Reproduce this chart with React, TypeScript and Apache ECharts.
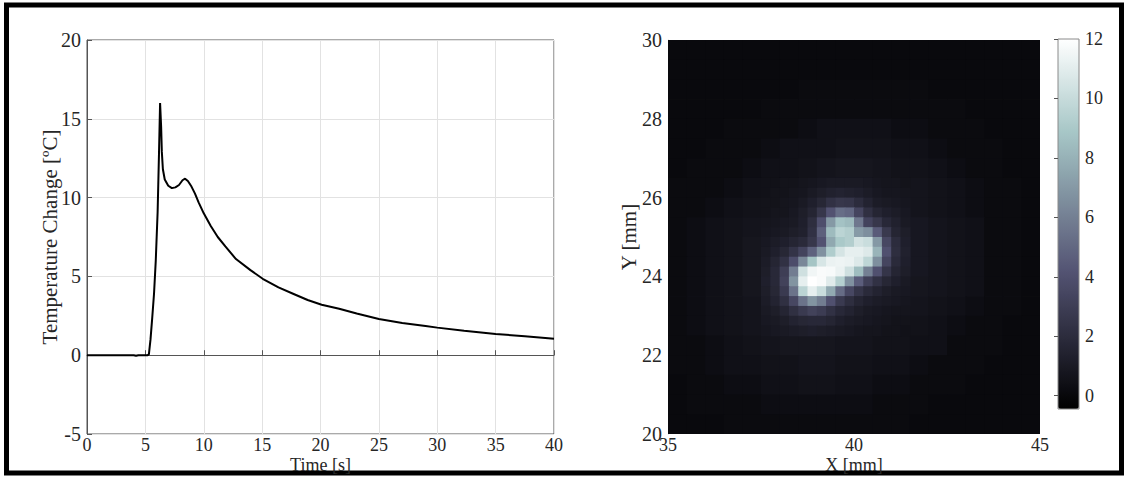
import React, { useEffect, useRef } from 'react';
import * as echarts from 'echarts';

// ---------- Left panel: temperature change vs time ----------
const timeS = [0, 2, 4, 4.2, 4.4, 5.2, 5.3, 5.44, 5.59, 5.74, 5.89, 6.05, 6.17, 6.26, 6.35, 6.41, 6.5, 6.66, 6.96, 7.27, 7.57, 7.88, 8.18, 8.4, 8.64, 8.95, 9.25, 9.56, 10, 10.6, 11.2, 11.85, 12.76, 14, 15.05, 16.4, 17.65, 18.9, 20.1, 21.6, 23.1, 25, 27, 29, 30, 32.3, 35, 37.5, 40];
const tempC = [0, 0, 0, -0.04, 0, 0, 0.05, 1.0, 2.4, 3.9, 6.0, 9.1, 12.9, 16.0, 14.5, 12.9, 11.8, 11.15, 10.75, 10.6, 10.65, 10.8, 11.1, 11.2, 11.05, 10.7, 10.25, 9.7, 9.0, 8.2, 7.5, 6.9, 6.1, 5.4, 4.85, 4.3, 3.9, 3.5, 3.2, 2.95, 2.65, 2.3, 2.05, 1.85, 1.75, 1.55, 1.35, 1.2, 1.05];

// ---------- Right panel: temperature map, coarse grid (0.5 mm cells) ----------
const coarseX = [35.25, 35.75, 36.25, 36.75, 37.25, 37.75, 38.25, 38.75, 39.25, 39.75, 40.25, 40.75, 41.25, 41.75, 42.25, 42.75, 43.25, 43.75, 44.25, 44.75];
const coarseY = [29.75, 29.25, 28.75, 28.25, 27.75, 27.25, 26.75, 26.25, 25.75, 25.25, 24.75, 24.25, 23.75, 23.25, 22.75, 22.25, 21.75, 21.25, 20.75, 20.25];
const coarseRows = [
  [0.05, 0.05, 0.05, 0.05, 0.05, 0.05, 0.05, 0.05, 0.05, 0.05, 0.05, 0.05, 0.05, 0.05, 0.05, 0.05, 0.05, 0.05, 0.05, 0.05],
  [0.05, 0.05, 0.05, 0.05, 0.05, 0.05, 0.05, 0.05, 0.05, 0.05, 0.05, 0.05, 0.05, 0.05, 0.05, 0.05, 0.05, 0.05, 0.05, 0.05],
  [0.05, 0.05, 0.05, 0.05, 0.05, 0.05, 0.05, 0.15, 0.15, 0.15, 0.15, 0.15, 0.15, 0.15, 0.05, 0.05, 0.05, 0.05, 0.05, 0.05],
  [0.05, 0.05, 0.05, 0.05, 0.05, 0.15, 0.15, 0.15, 0.15, 0.15, 0.15, 0.15, 0.15, 0.15, 0.15, 0.15, 0.05, 0.05, 0.05, 0.05],
  [0.05, 0.05, 0.05, 0.15, 0.15, 0.15, 0.15, 0.3, 0.45, 0.45, 0.45, 0.45, 0.3, 0.3, 0.15, 0.15, 0.15, 0.05, 0.05, 0.05],
  [0.05, 0.05, 0.15, 0.15, 0.15, 0.3, 0.45, 0.45, 0.45, 0.55, 0.55, 0.55, 0.45, 0.45, 0.3, 0.15, 0.15, 0.15, 0.05, 0.05],
  [0.05, 0.15, 0.15, 0.15, 0.3, 0.45, 0.45, 0.55, 0.65, 0.75, 0.75, 0.65, 0.55, 0.55, 0.45, 0.3, 0.15, 0.15, 0.05, 0.05],
  [0.15, 0.15, 0.15, 0.3, 0.45, 0.65, 0.75, 0.9, 1.2, 1.1, 0.9, 0.85, 0.75, 0.65, 0.55, 0.45, 0.3, 0.15, 0.15, 0.05],
  [0.15, 0.15, 0.3, 0.45, 0.55, 0.75, 0.9, 1.5, 3.5, 3.0, 1.5, 1.1, 0.9, 0.65, 0.55, 0.45, 0.3, 0.15, 0.15, 0.05],
  [0.15, 0.3, 0.45, 0.55, 0.65, 0.9, 1.2, 3.0, 8.0, 8.0, 6.0, 3.0, 1.5, 0.85, 0.65, 0.55, 0.45, 0.15, 0.15, 0.05],
  [0.15, 0.3, 0.45, 0.55, 0.75, 1.0, 1.5, 3.5, 8.0, 10.0, 10.5, 7.0, 2.0, 0.85, 0.65, 0.55, 0.45, 0.15, 0.15, 0.05],
  [0.15, 0.3, 0.45, 0.55, 0.75, 1.3, 3.0, 10.0, 11.5, 11.0, 9.0, 5.0, 2.0, 0.85, 0.65, 0.55, 0.45, 0.15, 0.15, 0.05],
  [0.15, 0.3, 0.45, 0.55, 0.75, 1.4, 5.0, 11.0, 8.0, 4.0, 2.5, 1.5, 1.1, 0.75, 0.65, 0.55, 0.45, 0.15, 0.15, 0.05],
  [0.15, 0.3, 0.45, 0.55, 0.65, 1.2, 2.5, 5.0, 3.0, 1.8, 1.2, 0.9, 0.8, 0.65, 0.55, 0.45, 0.3, 0.15, 0.15, 0.05],
  [0.15, 0.3, 0.45, 0.55, 0.65, 0.9, 1.3, 1.7, 1.2, 0.9, 0.7, 0.6, 0.5, 0.55, 0.45, 0.3, 0.15, 0.15, 0.05, 0.05],
  [0.15, 0.15, 0.3, 0.45, 0.55, 0.65, 0.75, 0.75, 0.75, 0.65, 0.65, 0.55, 0.55, 0.45, 0.45, 0.15, 0.15, 0.15, 0.05, 0.05],
  [0.15, 0.15, 0.3, 0.45, 0.45, 0.55, 0.55, 0.65, 0.65, 0.55, 0.55, 0.45, 0.45, 0.3, 0.15, 0.15, 0.15, 0.05, 0.05, 0.05],
  [0.05, 0.15, 0.15, 0.3, 0.3, 0.45, 0.45, 0.55, 0.55, 0.45, 0.45, 0.3, 0.3, 0.15, 0.15, 0.15, 0.05, 0.05, 0.05, 0.05],
  [0.05, 0.15, 0.15, 0.15, 0.15, 0.3, 0.3, 0.3, 0.3, 0.3, 0.3, 0.15, 0.15, 0.15, 0.05, 0.05, 0.05, 0.05, 0.05, 0.05],
  [0.05, 0.05, 0.05, 0.15, 0.15, 0.15, 0.15, 0.15, 0.15, 0.15, 0.15, 0.15, 0.15, 0.05, 0.05, 0.05, 0.05, 0.05, 0.05, 0.05],
];

// ---------- Right panel: fine grid (0.25 mm cells) over the hot spot ----------
const fineX = [37.625, 37.875, 38.125, 38.375, 38.625, 38.875, 39.125, 39.375, 39.625, 39.875, 40.125, 40.375, 40.625, 40.875, 41.125, 41.375];
const fineY = [26.375, 26.125, 25.875, 25.625, 25.375, 25.125, 24.875, 24.625, 24.375, 24.125, 23.875, 23.625, 23.375, 23.125, 22.875, 22.625];
const fineRows = [
  [0.5, 0.5, 0.6, 0.6, 0.7, 0.8, 0.9, 1.0, 1.0, 1.0, 1.0, 0.9, 0.8, 0.7, 0.7, 0.6],
  [0.5, 0.6, 0.6, 0.7, 0.8, 1.0, 1.2, 1.4, 1.5, 1.4, 1.3, 1.1, 0.9, 0.8, 0.8, 0.7],
  [0.6, 0.6, 0.7, 0.8, 1.0, 1.3, 1.7, 2.3, 2.6, 2.5, 2.0, 1.5, 1.1, 1.0, 0.9, 0.8],
  [0.6, 0.7, 0.7, 0.9, 1.2, 1.6, 2.6, 4.1, 5.3, 5.0, 3.4, 2.2, 1.6, 1.3, 1.1, 0.9],
  [0.7, 0.8, 0.9, 1.0, 1.3, 2.1, 3.9, 7.0, 8.7, 8.4, 5.7, 3.3, 2.6, 1.8, 1.4, 1.0],
  [0.8, 0.9, 1.0, 1.2, 1.4, 2.3, 4.7, 8.4, 9.6, 9.3, 7.1, 6.6, 4.5, 2.7, 1.6, 1.2],
  [0.9, 1.1, 1.3, 1.6, 1.9, 2.6, 4.1, 7.6, 9.0, 9.3, 10.4, 10.1, 7.0, 3.5, 2.0, 1.3],
  [1.0, 1.3, 1.7, 2.4, 3.3, 4.8, 6.7, 9.2, 10.5, 11.1, 11.1, 10.8, 8.1, 4.0, 2.1, 1.4],
  [1.1, 1.6, 2.3, 3.8, 6.3, 8.8, 10.6, 11.3, 11.4, 11.3, 10.8, 9.7, 6.6, 3.4, 1.9, 1.3],
  [1.2, 1.8, 3.0, 5.9, 10.3, 11.5, 11.8, 11.7, 11.3, 10.3, 8.5, 6.0, 4.0, 2.5, 1.6, 1.2],
  [1.3, 1.8, 3.2, 6.8, 11.1, 12.0, 11.8, 10.9, 9.4, 6.7, 4.6, 3.1, 2.3, 1.7, 1.3, 1.0],
  [1.2, 1.7, 2.8, 5.5, 9.6, 11.1, 10.1, 7.7, 5.2, 3.5, 2.5, 1.9, 1.5, 1.2, 1.0, 0.9],
  [1.1, 1.5, 2.2, 3.5, 5.5, 6.8, 5.9, 4.0, 2.8, 2.1, 1.6, 1.3, 1.1, 1.0, 0.9, 0.8],
  [1.0, 1.2, 1.6, 2.2, 2.8, 3.2, 2.9, 2.3, 1.8, 1.5, 1.2, 1.0, 0.9, 0.8, 0.7, 0.7],
  [0.9, 1.0, 1.2, 1.5, 1.7, 1.8, 1.8, 1.6, 1.3, 1.1, 1.0, 0.9, 0.8, 0.7, 0.6, 0.6],
  [0.8, 0.9, 1.0, 1.1, 1.2, 1.3, 1.2, 1.1, 1.0, 0.9, 0.8, 0.7, 0.7, 0.6, 0.6, 0.5],
];

// colour bar range
const cbarMin = -0.45;
const cbarMax = 12;
// MATLAB "bone" colormap stops
const boneColors = ['#000000', '#1c1c27', '#38384d', '#545474', '#707a8f', '#8ba1ab', '#a7c7c7', '#d3e3e3', '#ffffff'];

const FONT = "'Liberation Serif', 'Times New Roman', serif";
const TXT = '#262626';

function toCells(xs: number[], ys: number[], rows: number[][]) {
  const out: number[][] = [];
  rows.forEach((row, j) => row.forEach((v, i) => out.push([xs[i], ys[j], v])));
  return out;
}

function cellRenderer(half: number) {
  return (_params: any, api: any) => {
    const cx = api.value(0);
    const cy = api.value(1);
    const a = api.coord([cx - half, cy + half]);
    const b = api.coord([cx + half, cy - half]);
    return {
      type: 'rect',
      shape: { x: a[0], y: a[1], width: b[0] - a[0] + 0.8, height: b[1] - a[1] + 0.8 },
      style: { fill: api.visual('color') },
    };
  };
}

export default function App() {
  const ref = useRef<HTMLDivElement>(null);
  useEffect(() => {
    if (!ref.current) return;
    const chart = echarts.init(ref.current, undefined, { renderer: 'svg' });
    const yTick = { fontFamily: FONT, fontSize: 20, color: TXT };
    const xTick = { fontFamily: FONT, fontSize: 18, color: TXT };
    const nameStyle = { fontFamily: FONT, fontSize: 21, color: TXT };
    const xNameStyle = { fontFamily: FONT, fontSize: 18, color: TXT };
    const H = 394;
    chart.setOption({
      animation: false,
      backgroundColor: '#ffffff',
      grid: [
        { left: 87, top: 40, width: 467, height: H, show: true, borderColor: '#555', borderWidth: 1, backgroundColor: '#fff', outerBoundsMode: 'none', containLabel: false },
        { left: 668, top: 40, width: 372, height: H, show: false, outerBoundsMode: 'none', containLabel: false },
        { left: 1058, top: 39, width: 21, height: 370, show: true, borderColor: '#8a8a8a', borderWidth: 1, backgroundColor: 'transparent', z: 10, outerBoundsMode: 'none', containLabel: false },
      ],
      xAxis: [
        {
          gridIndex: 0, type: 'value', min: 0, max: 40, interval: 5,
          axisLine: { lineStyle: { color: '#555' } },
          axisTick: { inside: true, length: 5, lineStyle: { color: '#555' } },
          axisLabel: { ...xTick, margin: 2 },
          splitLine: { show: true, lineStyle: { color: '#e2e2e2', width: 1 } },
          name: 'Time [s]', nameLocation: 'middle', nameGap: 22, nameMoveOverlap: false, nameTextStyle: xNameStyle,
        },
        {
          gridIndex: 1, type: 'value', min: 35, max: 45, interval: 5,
          axisLine: { show: false }, axisTick: { show: false },
          axisLabel: { ...xTick, margin: 2 },
          splitLine: { show: false },
          name: 'X [mm]', nameLocation: 'middle', nameGap: 22, nameMoveOverlap: false, nameTextStyle: xNameStyle,
        },
        { gridIndex: 2, type: 'value', min: 0, max: 1, show: false },
      ],
      yAxis: [
        {
          gridIndex: 0, type: 'value', min: -5, max: 20, interval: 5,
          axisLine: { lineStyle: { color: '#555' } },
          axisTick: { inside: true, length: 5, lineStyle: { color: '#555' } },
          axisLabel: { ...yTick, margin: 6 },
          splitLine: { show: true, lineStyle: { color: '#e2e2e2', width: 1 } },
          name: 'Temperature Change [ºC]', nameLocation: 'middle', nameGap: 27, nameRotate: 90, nameMoveOverlap: false, nameTextStyle: nameStyle,
        },
        {
          gridIndex: 1, type: 'value', min: 20, max: 30, interval: 2,
          axisLine: { show: true, lineStyle: { color: '#cfcfcf' } }, axisTick: { show: false },
          axisLabel: { ...yTick, margin: 6 },
          splitLine: { show: false },
          name: 'Y [mm]', nameLocation: 'middle', nameGap: 29, nameRotate: 90, nameMoveOverlap: false, nameTextStyle: nameStyle,
        },
        {
          gridIndex: 2, type: 'value', min: cbarMin, max: cbarMax, splitNumber: 6, position: 'right', z: 10,
          axisLine: { show: false },
          axisTick: { show: true, inside: true, length: 4, lineStyle: { color: '#555' } },
          axisLabel: {
            fontFamily: FONT, fontSize: 18, color: TXT, margin: 6, showMinLabel: false,
            formatter: (v: number) => (Number.isInteger(v) ? String(v) : ''),
          },
          splitLine: { show: false },
        },
      ],
      visualMap: {
        type: 'continuous', min: cbarMin, max: cbarMax, dimension: 2, seriesIndex: [1, 2],
        inRange: { color: boneColors }, calculable: false, hoverLink: false,
        orient: 'vertical', left: 1058, top: 39, itemWidth: 21, itemHeight: 370, padding: 0,
      },
      series: [
        {
          type: 'line', xAxisIndex: 0, yAxisIndex: 0,
          data: timeS.map((t, i) => [t, tempC[i]]),
          showSymbol: false, symbol: 'none',
          lineStyle: { color: '#000', width: 2 },
        },
        {
          type: 'custom', xAxisIndex: 1, yAxisIndex: 1, clip: true,
          encode: { x: 0, y: 1 },
          data: toCells(coarseX, coarseY, coarseRows),
          renderItem: cellRenderer(0.25),
        },
        {
          type: 'custom', xAxisIndex: 1, yAxisIndex: 1, clip: true,
          encode: { x: 0, y: 1 },
          data: toCells(fineX, fineY, fineRows),
          renderItem: cellRenderer(0.125),
        },
      ],
      graphic: [
        {
          type: 'rect', z: -1,
          shape: { x: 6.5, y: 5, width: 1115, height: 468 },
          style: { fill: 'none', stroke: '#000', lineWidth: 5 },
        },
      ],
    });
    return () => chart.dispose();
  }, []);
  return <div ref={ref} style={{ position: 'absolute', left: 0, top: 0, width: 1128, height: 480 }} />;
}
